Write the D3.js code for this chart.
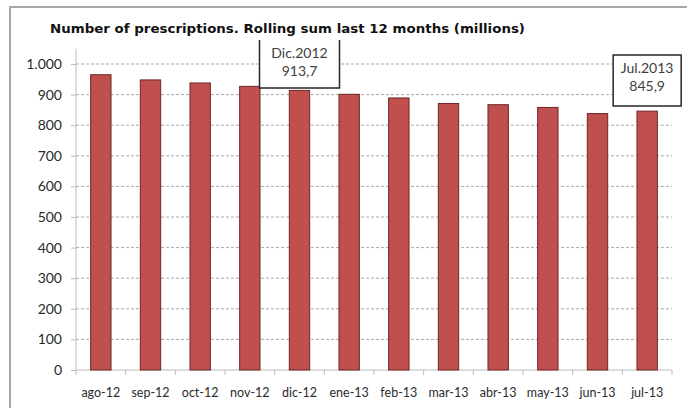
<!DOCTYPE html>
<html>
<head>
<meta charset="utf-8">
<script src="https://cdn.jsdelivr.net/npm/d3@7"></script>
<style>
  body { margin: 0; background: #fff; }
  svg { display: block; }
</style>
</head>
<body>
<svg id="chart" width="687" height="408"></svg>
<script>
// data
var months = ["ago-12", "sep-12", "oct-12", "nov-12", "dic-12", "ene-13",
              "feb-13", "mar-13", "abr-13", "may-13", "jun-13", "jul-13"]
var prescriptions = [965, 948, 938, 927, 913.7, 901, 889, 871, 867, 858, 838, 845.9]
var yTicks = [0, 100, 200, 300, 400, 500, 600, 700, 800, 900, 1000]
var callouts = [
  { month: "dic-12", lines: ["Dic.2012", "913,7"] },
  { month: "jul-13", lines: ["Jul.2013", "845,9"] }
]
var title = "Number of prescriptions. Rolling sum last 12 months (millions)"

var margin = { top: 64, left: 76, right: 15, bottom: 38 },
    width = 687 - margin.left - margin.right,
    height = 408 - margin.top - margin.bottom

var svg = d3.select("#chart")

// outer frame (only left and top visible)
svg.append("rect")
    .attr("x", 10).attr("y", 7)
    .attr("width", 720).attr("height", 430)
    .attr("fill", "none")
    .attr("stroke", "#a6a6a6")
    .attr("stroke-width", 2)

var x = d3.scaleBand().domain(months).range([0, width]).paddingInner(0.59).paddingOuter(0.295)
var y = d3.scaleLinear().domain([0, 1000]).range([height, 0])
var fmt = d3.formatLocale({ decimal: ",", thousands: ".", grouping: [3], currency: ["", "€"] }).format(",d")

var g = svg.append("g")
    .attr("transform", "translate(" + margin.left + "," + margin.top + ")")

// dashed gridlines
g.append("g").selectAll("line")
    .data(yTicks.filter(d => d > 0))
  .enter().append("line")
    .attr("x1", 0).attr("x2", width)
    .attr("y1", d => y(d)).attr("y2", d => y(d))
    .attr("stroke", "#a9a9a9")
    .attr("stroke-dasharray", "3,2")

// y axis
var yAxis = g.append("g")
    .call(d3.axisLeft(y).tickValues(yTicks).tickSize(5).tickPadding(9).tickFormat(fmt))
yAxis.select(".domain").attr("stroke", "#bcbcbc").attr("d", "M0," + (y(1050)) + "V" + height)
yAxis.selectAll(".tick line").attr("stroke", "#bcbcbc")
yAxis.selectAll(".tick text")
    .attr("fill", "#2b2b2b")
    .attr("font-family", "Lato, 'Open Sans', sans-serif")
    .attr("font-size", "14px")

// x axis: tick marks sit between categories
var step = x.step()
var xAxis = g.append("g").attr("transform", "translate(0," + height + ")")
xAxis.append("line")
    .attr("x1", 0).attr("x2", width)
    .attr("stroke", "#bcbcbc")
xAxis.selectAll(".sep")
    .data(d3.range(0, months.length + 1))
  .enter().append("line")
    .attr("x1", d => d * step).attr("x2", d => d * step)
    .attr("y1", 0).attr("y2", 5)
    .attr("stroke", "#bcbcbc")
xAxis.selectAll(".lbl")
    .data(months)
  .enter().append("text")
    .attr("x", d => x(d) + x.bandwidth() / 2)
    .attr("y", 27)
    .attr("text-anchor", "middle")
    .attr("fill", "#2b2b2b")
    .attr("font-family", "Lato, 'Open Sans', sans-serif")
    .attr("font-size", "12.5px")
    .text(d => d)

// bars
g.selectAll(".bar")
    .data(prescriptions)
  .enter().append("rect")
    .attr("class", "bar")
    .attr("x", (d, i) => x(months[i]))
    .attr("y", d => y(d))
    .attr("width", x.bandwidth())
    .attr("height", d => height - y(d))
    .attr("fill", "#c0504d")
    .attr("stroke", "#6e2624")
    .attr("stroke-width", 1)

// callout boxes
var boxes = [
  { top: 40, bottom: 88, w: 80, open: true },
  { top: 55, bottom: 106, w: 68, open: false }
]
callouts.forEach(function(c, i) {
  var b = boxes[i]
  var cx = margin.left + x(c.month) + x.bandwidth() / 2
  var x0 = cx - b.w / 2, x1 = cx + b.w / 2
  var cg = svg.append("g")
  cg.append("rect")
    .attr("x", x0).attr("y", b.top)
    .attr("width", b.w).attr("height", b.bottom - b.top)
    .attr("fill", "#fff")
  var path = b.open
    ? "M" + x0 + "," + b.top + "V" + b.bottom + "H" + x1 + "V" + b.top
    : "M" + x0 + "," + b.top + "V" + b.bottom + "H" + x1 + "V" + b.top + "Z"
  cg.append("path")
    .attr("d", path)
    .attr("fill", "none")
    .attr("stroke", "#262626")
    .attr("stroke-width", 1.5)
  c.lines.forEach(function(t, j) {
    cg.append("text")
      .attr("x", cx)
      .attr("y", b.top + 18 + j * 18)
      .attr("text-anchor", "middle")
      .attr("fill", "#404040")
      .attr("font-family", "Lato, 'Open Sans', sans-serif")
      .attr("font-size", "14px")
      .text(t)
  })
})

// title
svg.append("text")
    .attr("x", 50)
    .attr("y", 33)
    .attr("font-family", "'DejaVu Sans', Verdana, sans-serif")
    .attr("font-weight", "bold")
    .attr("font-size", "12.5px")
    .attr("fill", "#111")
    .attr("textLength", 475)
    .attr("lengthAdjust", "spacingAndGlyphs")
    .text(title)
</script>
</body>
</html>
